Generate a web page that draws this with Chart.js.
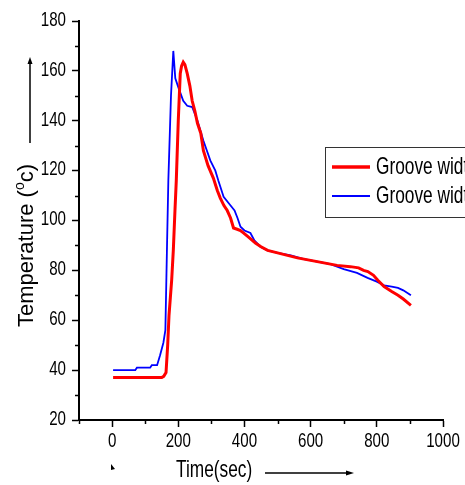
<!DOCTYPE html>
<html>
<head>
<meta charset="utf-8">
<script src="https://cdn.jsdelivr.net/npm/chart.js@4"></script>
<style>
  html, body { margin: 0; padding: 0; background: #fff; }
  #wrap { width: 465px; height: 485px; }
</style>
</head>
<body>
<div id="wrap"><canvas id="chart"></canvas></div>
<script>
// time (sec) and temperature readings
const timeRed = [3, 150, 156, 163, 168, 172, 176, 180, 185, 190, 194, 200, 206, 210, 215, 220, 227, 235, 242, 250,
  258, 268, 276, 290, 306, 318, 327, 338, 348, 358, 367, 378, 388, 397, 415, 433, 450, 470, 500, 530,
  560, 600, 640, 680, 720, 745, 760, 773, 790, 803, 822, 845, 864, 880, 903];
const tempRed = [37, 37, 37.5, 39, 50, 62, 69, 76, 88, 104, 116, 140, 159, 162, 163.5, 162.5, 159, 154, 148, 144,
  139, 135, 128, 122, 117, 112, 109, 106, 104, 101, 97, 96.5, 96, 95, 93, 91, 89.5, 88, 87, 86,
  85, 84, 83, 82, 81.5, 81, 80, 79.5, 78, 76, 73.5, 71.5, 70, 68.5, 66];

const timeBlue = [3, 70, 75, 115, 120, 136, 145, 155, 161, 166, 170, 178, 185, 191, 200, 215, 227, 242, 258, 276,
  297, 312, 321, 337, 358, 370, 379, 388, 400, 418, 430, 448, 470, 500, 540, 580, 620, 660, 700, 740,
  772, 800, 822, 845, 864, 880, 903];
const tempBlue = [40, 40, 41, 41, 42, 42, 46, 51, 56, 90, 116, 150, 168, 157, 153.5, 148, 146, 145.5, 140, 132,
  124, 120, 116, 109.5, 106, 104, 101, 97.5, 96, 95, 92, 89.5, 88, 87, 86, 84.5, 83.5, 82.5, 80.5, 79,
  77, 75.5, 74, 73.5, 73, 72, 70];

const seriesNames = ['Groove width', 'Groove width'];
const seriesColors = ['#ff0000', '#0000ff'];
const yTicks = [20, 40, 60, 80, 100, 120, 140, 160, 180];
const xTicks = [0, 200, 400, 600, 800, 1000];

const sans = '"Liberation Sans", Arial, sans-serif';
const squeeze = 0.72; // the figure's text is narrow, no condensed font here so scale it

function toPoints(xs, ys) {
  return xs.map((x, i) => ({ x: x, y: ys[i] }));
}

function narrowText(ctx, text, x, y, size, align) {
  ctx.save();
  ctx.font = size + 'px ' + sans;
  ctx.textBaseline = 'middle';
  const w = ctx.measureText(text).width * squeeze;
  let left = x;
  if (align === 'center') left = x - w / 2;
  if (align === 'right') left = x - w;
  ctx.translate(left, y);
  ctx.scale(squeeze, 1);
  ctx.textAlign = 'left';
  ctx.fillText(text, 0, 0);
  ctx.restore();
}

// tick labels, minor ticks, axis titles with arrows and the clipped legend box
const decorPlugin = {
  id: 'decor',
  afterDraw(chart) {
    const ctx = chart.ctx;
    const xs = chart.scales.x;
    const ys = chart.scales.y;
    const area = chart.chartArea;
    ctx.save();
    ctx.fillStyle = '#000';
    ctx.strokeStyle = '#000';
    ctx.lineWidth = 1.5;

    ys.ticks.forEach(t => narrowText(ctx, String(t.value), area.left - 13, ys.getPixelForValue(t.value) - 1, 21, 'right'));
    xs.ticks.forEach(t => narrowText(ctx, String(t.value), xs.getPixelForValue(t.value), area.bottom + 21, 21, 'center'));

    // minor ticks
    for (let v = 30; v < 180; v += 20) {
      const py = Math.round(ys.getPixelForValue(v)) + 0.5;
      ctx.beginPath(); ctx.moveTo(area.left - 4, py); ctx.lineTo(area.left, py); ctx.stroke();
    }
    for (let v = -100; v < 1000; v += 200) {
      const px = Math.round(xs.getPixelForValue(v)) + 0.5;
      ctx.beginPath(); ctx.moveTo(px, area.bottom); ctx.lineTo(px, area.bottom + 4); ctx.stroke();
    }

    // y title, rotated
    ctx.save();
    ctx.translate(27, 0);
    ctx.rotate(-Math.PI / 2);
    ctx.textBaseline = 'middle';
    ctx.textAlign = 'left';
    let pos = -327;
    ctx.font = '22px ' + sans;
    ctx.fillText('Temperature (', pos, 0);
    pos += ctx.measureText('Temperature (').width;
    ctx.font = '14px ' + sans;
    ctx.fillText('o', pos, -7);
    pos += ctx.measureText('o').width;
    ctx.font = '22px ' + sans;
    ctx.fillText('c)', pos, 0);
    ctx.restore();
    // y arrow
    ctx.beginPath(); ctx.moveTo(30, 143); ctx.lineTo(30, 62); ctx.stroke();
    ctx.beginPath(); ctx.moveTo(30, 57); ctx.lineTo(27.5, 64); ctx.lineTo(32.5, 64); ctx.closePath(); ctx.fill();

    // x title
    narrowText(ctx, 'Time(sec)', 176, 470, 24, 'left');
    ctx.beginPath(); ctx.moveTo(265, 473); ctx.lineTo(348, 473); ctx.stroke();
    ctx.beginPath(); ctx.moveTo(354, 473); ctx.lineTo(346, 470.5); ctx.lineTo(346, 475.5); ctx.closePath(); ctx.fill();
    // little mark under the origin
    ctx.beginPath(); ctx.moveTo(111, 464); ctx.lineTo(111, 470); ctx.lineTo(115, 469); ctx.closePath(); ctx.fill();

    // legend
    ctx.strokeStyle = '#333';
    ctx.lineWidth = 1;
    ctx.fillStyle = '#fff';
    ctx.fillRect(325.5, 147.5, 150, 70);
    ctx.strokeRect(325.5, 147.5, 150, 70);
    const rows = [167, 196];
    const widths = [3.5, 2];
    rows.forEach((ry, i) => {
      ctx.strokeStyle = seriesColors[i];
      ctx.lineWidth = widths[i];
      ctx.beginPath(); ctx.moveTo(332, ry); ctx.lineTo(370, ry); ctx.stroke();
      ctx.fillStyle = '#000';
      narrowText(ctx, seriesNames[i], 376, ry, 24, 'left');
    });
    ctx.restore();
  }
};

new Chart(document.getElementById('chart').getContext('2d'), {
  type: 'line',
  data: {
    datasets: [
      {
        label: seriesNames[0],
        data: toPoints(timeRed, tempRed),
        borderColor: seriesColors[0],
        borderWidth: 3,
        pointRadius: 0,
        tension: 0
      },
      {
        label: seriesNames[1],
        data: toPoints(timeBlue, tempBlue),
        borderColor: seriesColors[1],
        borderWidth: 1.8,
        pointRadius: 0,
        tension: 0
      }
    ]
  },
  options: {
    responsive: true,
    maintainAspectRatio: false,
    animation: false,
    layout: { padding: { top: 21, right: 22, left: 0, bottom: 0 } },
    plugins: { legend: { display: false }, tooltip: { enabled: false } },
    scales: {
      x: {
        type: 'linear',
        min: -100,
        max: 1000,
        afterBuildTicks: s => { s.ticks = xTicks.map(v => ({ value: v })); },
        afterFit: s => { s.height = 65; },
        border: { display: true, color: '#000', width: 2 },
        grid: { drawOnChartArea: false, drawTicks: true, tickLength: 7, tickWidth: 1.5, tickColor: '#000' },
        ticks: { display: false }
      },
      y: {
        min: 20,
        max: 180,
        afterBuildTicks: s => { s.ticks = yTicks.map(v => ({ value: v })); },
        afterFit: s => { s.width = 79; },
        border: { display: true, color: '#000', width: 2 },
        grid: { drawOnChartArea: false, drawTicks: true, tickLength: 7, tickWidth: 1.5, tickColor: '#000' },
        ticks: { display: false }
      }
    }
  },
  plugins: [decorPlugin]
});
</script>
</body>
</html>
